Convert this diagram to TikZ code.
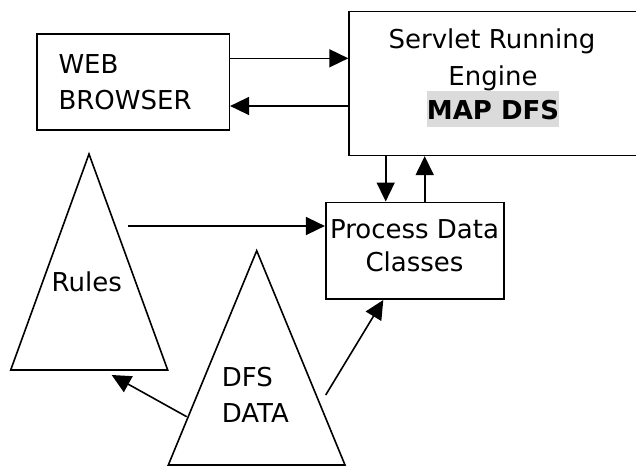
\documentclass[tikz,border=0pt]{standalone}
\usepackage{fontspec}
\setmainfont{DejaVu Sans}
\usetikzlibrary{arrows.meta}
\begin{document}
\begin{tikzpicture}[x=1pt,y=-1pt,
  box/.style={draw=black,line width=1.6pt,inner sep=0pt,fill=white},
  txt/.style={inner sep=0pt,font=\fontsize{26}{30}\selectfont},
  conn/.style={line width=1.6pt,-{Triangle[length=19pt,width=18pt]}},
  tri/.style={draw=black,line width=1.6pt,line join=miter}]
\useasboundingbox (0,0) rectangle (636,466);
\clip (0,0) rectangle (636,466);
% boxes
\node[box,minimum width=192.6pt,minimum height=96pt] (web) at (133,82) {};
\node[box,minimum width=300pt,minimum height=143.8pt,anchor=north west] (srv) at (348.3,10.7) {};
\node[box,minimum width=178.3pt,minimum height=96.7pt] (proc) at (414.85,250.65) {};
% triangles
\coordinate (rA) at (89,154);
\coordinate (rL) at (10.7,370);
\coordinate (rR) at (167.7,370);
\draw[tri] (rA) -- (rL) -- (rR) -- cycle;
\coordinate (dA) at (256.7,250.7);
\coordinate (dL) at (168.3,465);
\coordinate (dR) at (345,465);
\draw[tri] (dA) -- (dL) -- (dR) -- cycle;
% texts
\node[txt,anchor=base west] (t1) at (58.3,73.3) {WEB};
\node[txt,anchor=base west] (t2) at (58.3,109.3) {BROWSER};
\node[txt,anchor=base] (t3) at (492,48) {Servlet Running};
\node[txt,anchor=base] (t4) at (493,85) {Engine};
\fill[black!14] (427,90.7) rectangle (558.7,126.7);
\node[txt,anchor=base,font=\fontsize{26}{30}\selectfont\bfseries] (t5) at (493,119.5) {MAP DFS};
\node[txt,anchor=base] (t6) at (414.5,238.3) {Process Data};
\node[txt,anchor=base] (t7) at (414.5,271) {Classes};
\node[txt,anchor=base] (t8) at (86.7,291.7) {Rules};
\node[txt,anchor=base west] (t9) at (221.7,386.7) {DFS};
\node[txt,anchor=base west] (t10) at (221.7,422.7) {DATA};
% connector endpoints
\coordinate (a1s) at (web.east |- 0,58.3);
\coordinate (a1e) at (srv.west |- 0,58.3);
\coordinate (a2s) at (srv.west |- 0,106);
\coordinate (a2e) at (web.east |- 0,106);
\coordinate (a3s) at (385.7,0 |- srv.south);
\coordinate (a3e) at (385.7,0 |- proc.north);
\coordinate (a4s) at (424.7,0 |- proc.north);
\coordinate (a4e) at (424.7,0 |- srv.south);
\coordinate (a5s) at (128.3,226);
\coordinate (a5e) at (proc.west |- 0,226);
\coordinate (a6s) at (186.7,416.7);
\coordinate (a6e) at (111.7,375);
\coordinate (a7s) at (325.7,395);
\coordinate (a7e) at (383.3,300);
\draw[conn] (a1s) -- (a1e);
\draw[conn] (a2s) -- (a2e);
\draw[conn] (a3s) -- (a3e);
\draw[conn] (a4s) -- (a4e);
\draw[conn] (a5s) -- (a5e);
\draw[conn] (a6s) -- (a6e);
\draw[conn] (a7s) -- (a7e);
\end{tikzpicture}
\end{document}
